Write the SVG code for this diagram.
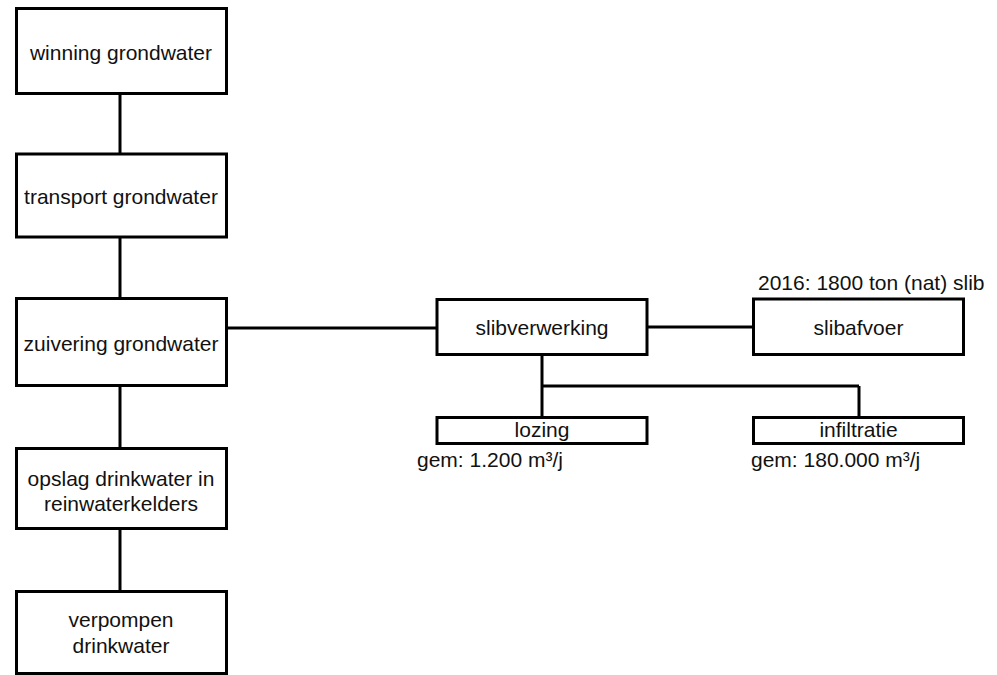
<svg xmlns="http://www.w3.org/2000/svg" width="997" height="675" viewBox="0 0 997 675">
<style>
.box{fill:#fff;stroke:#000;stroke-width:3}
.con line{stroke:#000;stroke-width:3}
text{font-family:"Liberation Sans",Arial,sans-serif;font-size:21px;fill:#111}
.c{text-anchor:middle}
</style>
<rect width="997" height="675" fill="#fff"/>
<g id="connectors" class="con">
<line x1="120" y1="94" x2="120" y2="154"/>
<line x1="120" y1="237" x2="120" y2="298"/>
<line x1="120" y1="385" x2="120" y2="448"/>
<line x1="120" y1="529" x2="120" y2="591"/>
<line x1="226" y1="328" x2="437" y2="328"/>
<line x1="647" y1="327" x2="753" y2="327"/>
<line x1="542" y1="354" x2="542" y2="417"/>
<line x1="542" y1="386" x2="859" y2="386"/>
<line x1="859" y1="386" x2="859" y2="417"/>
</g>
<g id="winning">
<rect class="box" x="16.5" y="8.5" width="210" height="85"/>
<text class="c" x="121" y="60">winning grondwater</text>
</g>
<g id="transport">
<rect class="box" x="16.5" y="154" width="210" height="83"/>
<text class="c" x="121" y="204">transport grondwater</text>
</g>
<g id="zuivering">
<rect class="box" x="16.5" y="298.5" width="210" height="87"/>
<text class="c" x="121" y="351">zuivering grondwater</text>
</g>
<g id="opslag">
<rect class="box" x="16.5" y="448.5" width="210" height="80"/>
<text class="c" x="121" y="486">opslag drinkwater in</text>
<text class="c" x="121" y="511">reinwaterkelders</text>
</g>
<g id="verpompen">
<rect class="box" x="16.5" y="591.5" width="210" height="82"/>
<text class="c" x="121" y="627">verpompen</text>
<text class="c" x="121" y="653">drinkwater</text>
</g>
<g id="slibverwerking">
<rect class="box" x="437" y="299.5" width="210" height="55"/>
<text class="c" x="542" y="335">slibverwerking</text>
</g>
<g id="slibafvoer">
<rect class="box" x="753.5" y="299" width="210" height="55.5"/>
<text class="c" x="858.5" y="335">slibafvoer</text>
<text x="758" y="290">2016: 1800 ton (nat) slib</text>
</g>
<g id="lozing">
<rect class="box" x="437" y="417.5" width="210" height="26"/>
<text class="c" x="542" y="437">lozing</text>
<text x="417" y="467">gem: 1.200 m³/j</text>
</g>
<g id="infiltratie">
<rect class="box" x="753.5" y="417.5" width="210" height="26"/>
<text class="c" x="858.5" y="437">infiltratie</text>
<text x="751" y="467">gem: 180.000 m³/j</text>
</g>
</svg>
